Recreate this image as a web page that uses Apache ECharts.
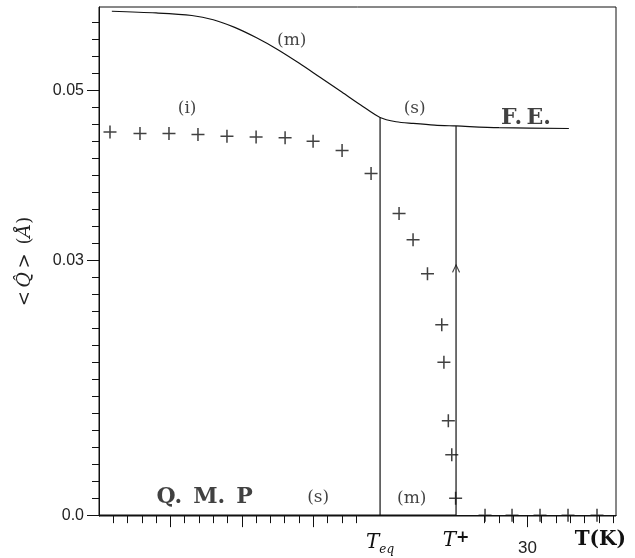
<!DOCTYPE html>
<html>
<head>
<meta charset="utf-8">
<script src="https://cdn.jsdelivr.net/npm/echarts@6/dist/echarts.min.js"></script>
<style>
  html, body { margin: 0; padding: 0; background: #fff; }
  #main { width: 635px; height: 558px; }
</style>
</head>
<body>
<div id="main"></div>
<script>
// upper branch: metastable (m) then stable (s), then F.E.
var curveT = [0.9, 4.0, 6.5, 8.0, 9.5, 11.0, 12.5, 14.0, 15.5, 17.0, 18.3, 19.68, 20.8, 22.0, 23.5, 25.0, 28.0, 32.9]
var curveQ = [0.0593, 0.0591, 0.0588, 0.0583, 0.0574, 0.0562, 0.0548, 0.0532, 0.0515, 0.0498, 0.0483, 0.0468, 0.0463, 0.0461, 0.0459, 0.0458, 0.0456, 0.0455]

// "+" points
var crossT = [0.77, 2.87, 4.9, 6.93, 8.96, 11.0, 13.03, 14.99, 17.02, 19.05, 21.01, 21.99, 23.0, 24.0, 24.15, 24.46, 24.7, 24.97, 27.03, 28.92, 30.88, 32.84, 34.87]
var crossQ = [0.0451, 0.0449, 0.0449, 0.0448, 0.0446, 0.0445, 0.0444, 0.0440, 0.0429, 0.0402, 0.0355, 0.0324, 0.0284, 0.0224, 0.0180, 0.0111, 0.0071, 0.0020, 0, 0, 0, 0, 0]

// transition temperatures and tops of the vertical jumps
var teq = 19.68, teqTop = 0.0468
var tplus = 25.0, tplusTop = 0.0458
var arrowQ = 0.0293

// axis ticks / labels
var xTicks = [1, 2, 3, 4, 5, 6, 7, 8, 9, 10, 11, 12, 13, 14, 15, 16, 17, 18, 27, 28, 29, 30, 31, 32, 33, 34, 35, 36]
var xMajorTicks = [5, 10, 15, 30]
var xLabelVals = [teq, tplus, 30, 35.1]
var xLabelText = ['{it|T}{sub|eq}', '{it|T}{sup|+}', '{num|30}', '{bf|T(K)}']
var yTicks = [0, 0.002, 0.004, 0.006, 0.008, 0.01, 0.012, 0.014, 0.016, 0.018, 0.02, 0.022, 0.024, 0.026, 0.028, 0.03,
  0.032, 0.034, 0.036, 0.038, 0.04, 0.042, 0.044, 0.046, 0.048, 0.05, 0.052, 0.054, 0.056, 0.058]
var yLabelVals = [0, 0.03, 0.05]
var yLabelText = ['0.0', '0.03', '0.05']

// text notes on the plot
var notes = [
  { text: '(m)', at: [13.5, 0.0559] },
  { text: '(i)', at: [6.17, 0.0479] },
  { text: '(s)', at: [22.1, 0.0479] },
  { text: '{bf|F.\u2009E.}', at: [29.9, 0.0467] },
  { text: '{bf|Q.\u2002M.\u2002P}', at: [7.4, 0.0021] },
  { text: '(s)', at: [15.35, 0.0021] },
  { text: '(m)', at: [21.9, 0.0019] }
]

var ink = '#111'
var serif = 'DejaVu Serif'

function zip(a, b) {
  return a.map(function (v, i) { return [v, b[i]] })
}

var chart = echarts.init(document.getElementById('main'))

var xBase = {
  type: 'value', min: 0, max: 36.2, position: 'bottom',
  splitLine: { show: false }
}
var yBase = {
  type: 'value', min: -0.0001, max: 0.0598, position: 'left',
  splitLine: { show: false }
}

chart.setOption({
  animation: false,
  backgroundColor: '#fff',
  grid: {
    left: 99, right: 19, top: 7, bottom: 42,
    show: true, borderColor: ink, borderWidth: 1,
    outerBoundsMode: 'none'
  },
  xAxis: [
    Object.assign({}, xBase, {
      axisLine: { lineStyle: { color: ink, width: 1 } },
      axisTick: { show: true, length: 8, customValues: xTicks, lineStyle: { color: ink } },
      axisLabel: { show: false }
    }),
    Object.assign({}, xBase, {
      axisLine: { show: false },
      axisTick: { show: true, length: 12, customValues: xMajorTicks, lineStyle: { color: ink } },
      axisLabel: {
        show: true,
        customValues: xLabelVals,
        margin: 14,
        color: '#222',
        fontFamily: 'Liberation Sans',
        fontSize: 17,
        formatter: function (v) {
          var i = xLabelVals.indexOf(v)
          return i >= 0 ? xLabelText[i] : ''
        },
        rich: {
          it: { fontFamily: serif, fontStyle: 'italic', fontSize: 20, color: '#111' },
          sub: { fontFamily: serif, fontStyle: 'italic', fontSize: 12, color: '#111', padding: [14, 0, 0, 0] },
          sup: { fontFamily: serif, fontWeight: 'bold', fontSize: 16, color: '#111', padding: [0, 0, 6, 0] },
          bf: { fontFamily: serif, fontWeight: 'bold', fontSize: 20, color: '#111' },
          num: { fontFamily: 'Liberation Sans', fontSize: 17, color: '#222', padding: [10, 0, 0, 0] }
        }
      }
    })
  ],
  yAxis: [
    Object.assign({}, yBase, {
      axisLine: { lineStyle: { color: ink, width: 1 } },
      axisTick: { show: true, length: 7, customValues: yTicks, lineStyle: { color: ink } },
      axisLabel: { show: false },
      name: '{n|<\u2009}{it|Q\u0302}{n|\u2009>\u2002(}{it|\u00c5}{n|)}',
      nameLocation: 'middle',
      nameRotate: 90,
      nameGap: 64,
      nameTextStyle: {
        rich: {
          n: { fontFamily: serif, fontSize: 18, color: '#222' },
          it: { fontFamily: serif, fontStyle: 'italic', fontSize: 19, color: '#222' }
        }
      }
    }),
    Object.assign({}, yBase, {
      axisLine: { show: false },
      axisTick: { show: true, length: 12, customValues: yLabelVals, lineStyle: { color: ink } },
      axisLabel: {
        show: true,
        customValues: yLabelVals,
        margin: 15,
        color: '#222',
        fontFamily: 'Liberation Sans',
        fontSize: 16,
        formatter: function (v) {
          var i = yLabelVals.indexOf(v)
          return i >= 0 ? yLabelText[i] : ''
        }
      }
    })
  ],
  series: [
    {
      type: 'line', smooth: 0.3, showSymbol: false,
      data: zip(curveT, curveQ),
      lineStyle: { color: ink, width: 1.2 }
    },
    {
      type: 'line', showSymbol: false,
      data: [[teq, 0], [teq, teqTop]],
      lineStyle: { color: ink, width: 1.2 }
    },
    {
      type: 'line', showSymbol: false,
      data: [[tplus, 0], [tplus, tplusTop]],
      lineStyle: { color: ink, width: 1.2 }
    },
    {
      type: 'line', showSymbol: false,
      data: [[0, 0], [tplus, 0]],
      lineStyle: { color: ink, width: 1.2 }
    },
    {
      type: 'scatter',
      symbol: 'path://M0,5.3H12V6.7H0Z M5.3,0H6.7V12H5.3Z',
      symbolSize: 13,
      itemStyle: { color: ink },
      data: zip(crossT, crossQ)
    },
    {
      type: 'scatter',
      symbol: 'path://M0,9L5,0L10,9L8.8,9.6L5,2.4L1.2,9.6Z',
      symbolSize: [8, 9],
      symbolOffset: [0, 2],
      itemStyle: { color: ink },
      data: [[tplus, arrowQ]]
    },
    {
      type: 'scatter',
      symbolSize: 0.1,
      itemStyle: { color: 'transparent' },
      silent: true,
      data: notes.map(function (n) {
        return {
          value: n.at,
          label: {
            show: true, position: 'inside', formatter: n.text,
            fontFamily: serif, fontSize: 17, color: '#111',
            rich: { bf: { fontFamily: serif, fontWeight: 'bold', fontSize: 22, color: '#111' } }
          }
        }
      })
    }
  ]
})
</script>
</body>
</html>
